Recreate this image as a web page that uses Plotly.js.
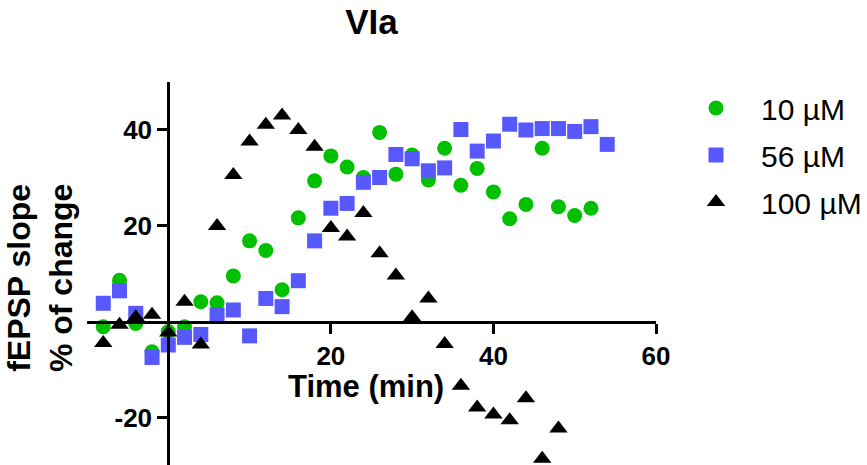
<!DOCTYPE html>
<html>
<head>
<meta charset="utf-8">
<script src="https://cdn.plot.ly/plotly-3.0.1.min.js"></script>
<style>html,body{margin:0;padding:0;background:#fff;}#chart{width:867px;height:465px;}</style>
</head>
<body>
<div id="chart"></div>
<script>
// Time points (min)
var time10 = [-8,-6,-4,-2,0,2,4,6,8,10,12,14,16,18,20,22,24,26,28,30,32,34,36,38,40,42,44,46,48,50,52];
var time56 = [-8,-6,-4,-2,0,2,4,6,8,10,12,14,16,18,20,22,24,26,28,30,32,34,36,38,40,42,44,46,48,50,52,54];
var time100 = [-8,-6,-4,-2,0,2,4,6,8,10,12,14,16,18,20,22,24,26,28,30,32,34,36,38,40,42,44,46,48];

// fEPSP slope, % of change
var slope10 = [-1.0,8.7,-0.3,-6.2,-2.0,-1.0,4.2,4.0,9.6,16.9,14.9,6.7,21.7,29.4,34.6,32.3,30.1,39.5,30.8,34.8,29.6,36.2,28.5,32.0,27.1,21.5,24.5,36.2,24.0,22.2,23.7];
var slope56 = [3.9,6.5,1.8,-7.4,-4.8,-3.2,-2.6,1.5,2.5,-2.9,4.9,3.2,8.6,16.9,23.7,24.7,29.1,30.1,34.9,34.0,31.5,32.1,40.1,35.6,37.7,41.2,40.0,40.3,40.3,39.7,40.7,37.0];
var slope100 = [-4.4,-0.6,1.0,1.5,-2.2,4.2,-4.7,20.0,30.6,37.6,41.1,43.0,40.0,36.5,19.6,17.8,22.7,14.3,9.7,1.0,4.9,-4.6,-13.3,-17.8,-19.3,-20.5,-15.9,-28.5,-22.2];

var seriesNames = ['10 µM','56 µM','100 µM'];
var xTicks = [20,40,60];
var yTicks = [-20,20,40];
var chartTitle = 'VIa';
var xTitle = 'Time (min)';
var yTitle = 'fEPSP slope<br>% of change';

var FONT = 'Arial, "Liberation Sans", sans-serif';
var xRange = [-10, 60];
var yRange = [-29.8, 50];

var traces = [
  {x: time10, y: slope10, name: seriesNames[0], mode: 'markers', type: 'scatter', legendgroup: 'a',
   marker: {symbol: 'circle', size: 15, color: '#00C000'}, cliponaxis: false},
  {x: time56, y: slope56, name: seriesNames[1], mode: 'markers', type: 'scatter', legendgroup: 'b',
   marker: {symbol: 'square', size: 15, color: '#5858FF'}, cliponaxis: false},
  {x: time100, y: slope100, name: seriesNames[2], mode: 'markers', type: 'scatter', legendgroup: 'c',
   marker: {symbol: 'triangle-up', size: 16, color: '#000000'}, cliponaxis: false}
];

var layout = {
  width: 867, height: 465,
  margin: {l: 87, r: 210, t: 82, b: 0, pad: 0},
  paper_bgcolor: '#ffffff', plot_bgcolor: 'rgba(0,0,0,0)',
  font: {family: FONT, color: '#000'},
  title: {text: chartTitle, font: {family: FONT, size: 35, weight: 700, color: '#000'},
          x: 0.5, xref: 'paper', xanchor: 'center', y: 1 - 22/465, yref: 'container', yanchor: 'middle'},
  xaxis: {range: xRange, anchor: 'free', position: (0 - yRange[0])/(yRange[1]-yRange[0]),
          showgrid: false, zeroline: false, showline: true, linecolor: '#000', linewidth: 3,
          ticks: 'outside', ticklen: 10, tickwidth: 3, tickcolor: '#000',
          tickmode: 'array', tickvals: xTicks, ticktext: xTicks.map(String),
          tickfont: {family: FONT, size: 26, weight: 700, color: '#000'}},
  yaxis: {range: yRange, anchor: 'free', position: (0 - xRange[0])/(xRange[1]-xRange[0]),
          showgrid: false, zeroline: false, showline: true, linecolor: '#000', linewidth: 3,
          ticks: 'outside', ticklen: 10, tickwidth: 3, tickcolor: '#000',
          tickmode: 'array', tickvals: yTicks, ticktext: yTicks.map(String),
          tickfont: {family: FONT, size: 26, weight: 700, color: '#000'}},
  showlegend: true,
  legend: {x: (672 - 87)/570, xanchor: 'left', y: 1.0, yanchor: 'top', yref: 'paper',
           font: {family: FONT, size: 30, color: '#000'}, itemwidth: 80,
           traceorder: 'grouped', tracegroupgap: 5, bgcolor: 'rgba(0,0,0,0)', borderwidth: 0},
  annotations: [
    {text: xTitle, xref: 'paper', yref: 'paper', x: (366-87)/570, y: 1 - (386-82)/383,
     xanchor: 'center', yanchor: 'middle', showarrow: false,
     font: {family: FONT, size: 31, weight: 700, color: '#000'}},
    {text: yTitle, xref: 'paper', yref: 'paper', x: (40-87)/570, y: 1 - (278-82)/383,
     xanchor: 'center', yanchor: 'middle', showarrow: false, textangle: -90, align: 'center',
     font: {family: FONT, size: 32, weight: 700, color: '#000'}}
  ]
};

Plotly.newPlot('chart', traces, layout, {displayModeBar: false, staticPlot: true});
</script>
</body>
</html>
